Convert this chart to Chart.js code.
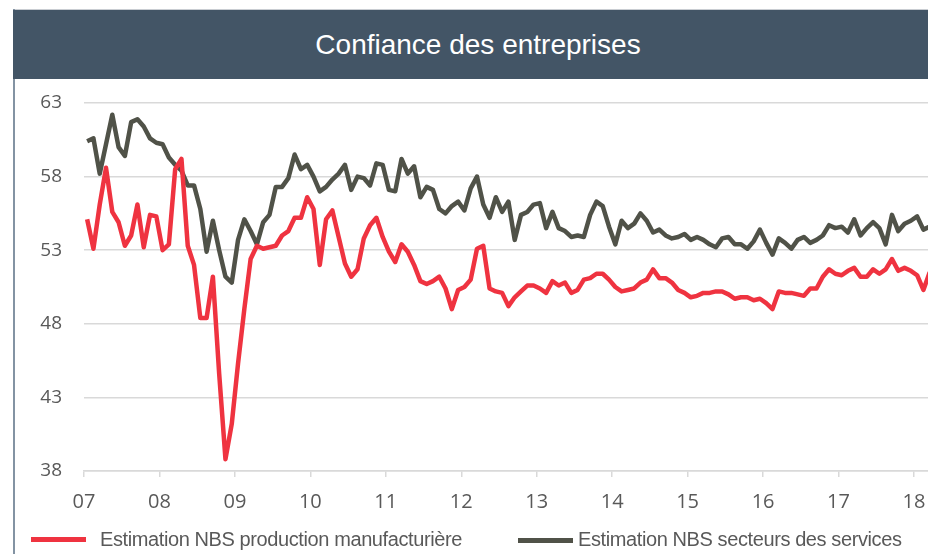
<!DOCTYPE html>
<html lang="fr">
<head>
<meta charset="utf-8">
<title>Confiance des entreprises</title>
<script src="https://cdn.jsdelivr.net/npm/chart.js@4/dist/chart.umd.min.js"></script>
<style>
  html, body { margin: 0; padding: 0; background: #fff; overflow: hidden; width: 928px; height: 554px; }
  #cadre-gauche { position: absolute; left: 13px; top: 9px; width: 2px; height: 545px; background: #8393a3; }
  #cadre-haut { position: absolute; left: 13px; top: 9px; width: 930px; height: 1px; background: #c9cdd2; }
  #titre {
    position: absolute; left: 13px; top: 10px; width: 930px; height: 69px;
    background: #435566; color: #fff; z-index: 2;
    font: 28px "Liberation Sans", Arial, sans-serif; line-height: 69px; text-align: center;
  }
  #graphique { position: absolute; left: 0; top: 0; }
  .leg-trait { position: absolute; height: 5px; }
  .leg-texte {
    position: absolute; top: 527px; font: 20px "Liberation Sans", Arial, sans-serif;
    letter-spacing: -0.4px; color: #595959; line-height: 24px; white-space: nowrap;
  }
</style>
</head>
<body>
<div id="cadre-haut"></div>
<div id="titre">Confiance des entreprises</div>
<canvas id="graphique" width="960" height="554"></canvas>
<div id="cadre-gauche"></div>
<div class="leg-trait" style="left:31px;top:537px;width:55px;background:#ef3340"></div>
<div class="leg-texte" style="left:100px">Estimation NBS production manufacturière</div>
<div class="leg-trait" style="left:518px;top:538px;width:55px;background:#505248"></div>
<div class="leg-texte" style="left:578px">Estimation NBS secteurs des services</div>

<script>
// PMI mensuels, de janvier 2007 à mars 2018
const anneeDebut = 2007;

const fabrication = [
  55.1, 53.1, 56.1, 58.6, 55.6, 54.9, 53.3, 54.0, 56.1, 53.2, 55.4, 55.3, // 2007
  53.0, 53.4, 58.5, 59.2, 53.3, 52.0, 48.4, 48.4, 51.2, 44.6, 38.8, 41.2, // 2008
  45.3, 49.0, 52.4, 53.3, 53.1, 53.2, 53.3, 54.0, 54.3, 55.2, 55.2, 56.6, // 2009
  55.8, 52.0, 55.1, 55.7, 53.9, 52.1, 51.2, 51.7, 53.8, 54.7, 55.2, 53.9, // 2010
  52.9, 52.2, 53.4, 52.9, 52.0, 50.9, 50.7, 50.9, 51.2, 50.4, 49.0, 50.3, // 2011
  50.5, 51.0, 53.1, 53.3, 50.4, 50.2, 50.1, 49.2, 49.8, 50.2, 50.6, 50.6, // 2012
  50.4, 50.1, 50.9, 50.6, 50.8, 50.1, 50.3, 51.0, 51.1, 51.4, 51.4, 51.0, // 2013
  50.5, 50.2, 50.3, 50.4, 50.8, 51.0, 51.7, 51.1, 51.1, 50.8, 50.3, 50.1, // 2014
  49.8, 49.9, 50.1, 50.1, 50.2, 50.2, 50.0, 49.7, 49.8, 49.8, 49.6, 49.7, // 2015
  49.4, 49.0, 50.2, 50.1, 50.1, 50.0, 49.9, 50.4, 50.4, 51.2, 51.7, 51.4, // 2016
  51.3, 51.6, 51.8, 51.2, 51.2, 51.7, 51.4, 51.7, 52.4, 51.6, 51.8, 51.6, // 2017
  51.3, 50.3, 51.5                                                        // 2018
];

const services = [
  60.4, 60.6, 58.2, 60.2, 62.2, 60.0, 59.4, 61.7, 61.9, 61.4, 60.6, 60.3, // 2007
  60.2, 59.3, 58.8, 58.4, 57.4, 57.4, 55.8, 52.9, 55.0, 53.0, 51.2, 50.8, // 2008
  53.7, 55.1, 54.3, 53.4, 54.9, 55.4, 57.3, 57.3, 57.9, 59.5, 58.5, 58.8, // 2009
  58.0, 57.0, 57.3, 57.8, 58.2, 58.8, 57.1, 58.0, 57.9, 57.4, 58.9, 58.8, // 2010
  57.1, 57.0, 59.2, 58.2, 58.7, 56.6, 57.3, 57.1, 55.8, 55.5, 56.0, 56.3, // 2011
  55.7, 57.2, 58.0, 56.1, 55.2, 56.6, 55.6, 56.3, 53.7, 55.4, 55.6, 56.1, // 2012
  56.2, 54.5, 55.6, 54.5, 54.3, 53.9, 54.0, 53.9, 55.4, 56.3, 56.0, 54.6, // 2013
  53.4, 55.0, 54.5, 54.8, 55.5, 55.0, 54.2, 54.4, 54.0, 53.8, 53.9, 54.1, // 2014
  53.7, 53.9, 53.7, 53.4, 53.2, 53.8, 53.9, 53.4, 53.4, 53.1, 53.6, 54.4, // 2015
  53.5, 52.7, 53.8, 53.5, 53.1, 53.7, 53.9, 53.5, 53.7, 54.0, 54.7, 54.5, // 2016
  54.6, 54.2, 55.1, 54.0, 54.5, 54.9, 54.5, 53.4, 55.4, 54.3, 54.8, 55.0, // 2017
  55.3, 54.4, 54.6                                                        // 2018
];

const etiquettesAnnees = ['07', '08', '09', '10', '11', '12', '13', '14', '15', '16', '17', '18'];
const etiquettesY = [38, 43, 48, 53, 58, 63];

// le graphique d'origine est coupé à droite : l'axe continue au-delà de la fenêtre
const xMax = 2018.61;

const couleurRouge = '#ef3340';
const couleurGris = '#505248';
const couleurGrille = '#d9d9d9';
const couleurTexte = '#595959';

// chaque mois est placé au milieu de sa case
const versPoints = serie => serie.map((v, i) => ({ x: anneeDebut + (i + 0.5) / 12, y: v }));

Chart.defaults.font.family = '"Open Sans", "Liberation Sans", sans-serif';
Chart.defaults.color = couleurTexte;

new Chart(document.getElementById('graphique'), {
  type: 'line',
  data: {
    datasets: [
      {
        label: 'Estimation NBS production manufacturière',
        data: versPoints(fabrication),
        borderColor: couleurRouge,
        borderWidth: 4.5,
        pointRadius: 0,
        tension: 0,
        borderJoinStyle: 'round'
      },
      {
        label: 'Estimation NBS secteurs des services',
        data: versPoints(services),
        borderColor: couleurGris,
        borderWidth: 4.5,
        pointRadius: 0,
        tension: 0,
        borderJoinStyle: 'round'
      }
    ]
  },
  options: {
    responsive: false,
    animation: false,
    layout: { padding: { top: 103, bottom: 43, left: 0, right: 0 } },
    plugins: {
      legend: { display: false },
      tooltip: { enabled: false }
    },
    scales: {
      x: {
        type: 'linear',
        min: anneeDebut,
        max: xMax,
        afterFit: scale => { scale.height = 40; },
        ticks: {
          stepSize: 1,
          includeBounds: false,
          autoSkip: false,
          maxRotation: 0,
          padding: 13,
          font: { size: 20 },
          callback: v => etiquettesAnnees[v - anneeDebut] ?? ''
        },
        grid: { drawOnChartArea: false, drawTicks: true, tickLength: 6, color: couleurGrille, lineWidth: 1.5 },
        border: { color: couleurGrille, width: 1.5 }
      },
      y: {
        min: etiquettesY[0],
        max: etiquettesY[etiquettesY.length - 1],
        afterFit: scale => { scale.width = 84; },
        ticks: {
          stepSize: 5,
          padding: 22,
          font: { size: 19 }
        },
        grid: { color: couleurGrille, lineWidth: 1.5, drawTicks: false },
        border: { display: false }
      }
    }
  }
});
</script>
</body>
</html>
